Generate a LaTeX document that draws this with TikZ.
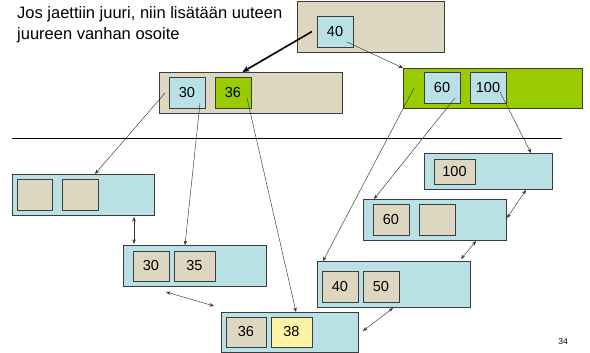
\documentclass[tikz,border=0pt]{standalone}
\usepackage{fontspec}
\setmainfont{Liberation Sans}
\usetikzlibrary{calc,arrows.meta}
\definecolor{tanc}{HTML}{DDD6C1}
\definecolor{bluec}{HTML}{B9E0E4}
\definecolor{greenc}{HTML}{99CC00}
\definecolor{yellowc}{HTML}{FCF4A6}
\definecolor{edgec}{HTML}{3C3C3C}
\begin{document}
\begin{tikzpicture}[x=1pt,y=-1pt,
  box/.style={draw=edgec,line width=0.9pt,inner sep=0pt,outer sep=0pt,font=\fontsize{14.5}{16}\selectfont},
  ptr/.style={draw=black!80,line width=0.45pt,-{Stealth[length=4.5pt,width=3.5pt]}},
  dptr/.style={draw=black!80,line width=0.45pt,{Stealth[length=4.5pt,width=3.5pt]}-{Stealth[length=4.5pt,width=3.5pt]}},
  thick ptr/.style={draw=black,line width=1.6pt,-{Stealth[length=7pt,width=6pt]}}]
\useasboundingbox (0,0) rectangle (590,353);
% title
\node[anchor=north west,align=left,inner sep=0pt,font=\fontsize{16.5}{21}\selectfont] (title) at (17,6.5) {Jos jaettiin juuri, niin lisätään uuteen\\juureen vanhan osoite};
% root
\node[box,fill=tanc,minimum width=147,minimum height=51] (R) at (370.5,26.5) {};
\node[box,fill=bluec,minimum width=36,minimum height=31] (R40) at (335,31.5) {40};
% mid left
\node[box,fill=tanc,minimum width=183,minimum height=41] (L) at (250.5,92.5) {};
\node[box,fill=bluec,minimum width=36,minimum height=31] (L30) at (187,92.5) {30};
\node[box,fill=greenc,minimum width=36,minimum height=31] (L36) at (233,92.5) {36};
% mid right green
\node[box,fill=greenc,minimum width=179,minimum height=40] (G) at (492.5,88) {};
\node[box,fill=bluec,minimum width=36,minimum height=31] (G60) at (442,87.5) {60};
\node[box,fill=bluec,minimum width=36,minimum height=31] (G100) at (488,87.5) {100};
% separator
\coordinate (s1) at (12,138);
\coordinate (s2) at (562,138);
\draw[line width=0.6pt] (s1) -- (s2);
% leaves
\node[box,fill=bluec,minimum width=142,minimum height=41] (A) at (83,194.5) {};
\node[box,fill=tanc,minimum width=35,minimum height=31] (A1) at (34.5,194.5) {};
\node[box,fill=tanc,minimum width=36,minimum height=31] (A2) at (80,194.5) {};
\node[box,fill=bluec,minimum width=143,minimum height=41] (B) at (194.5,265.5) {};
\node[box,fill=tanc,minimum width=36,minimum height=30] (B30) at (151,266) {30};
\node[box,fill=tanc,minimum width=41,minimum height=30] (B35) at (194.5,266) {35};
\node[box,fill=bluec,minimum width=137,minimum height=40] (C) at (289.5,332) {};
\node[box,fill=tanc,minimum width=40,minimum height=30] (C36) at (246,332) {36};
\node[box,fill=yellowc,minimum width=41,minimum height=30] (C38) at (291.5,332) {38};
\node[box,fill=bluec,minimum width=153,minimum height=46] (D) at (393.5,284) {};
\node[box,fill=tanc,minimum width=36,minimum height=31] (D40) at (340,286.5) {40};
\node[box,fill=tanc,minimum width=36,minimum height=31] (D50) at (381,286.5) {50};
\node[box,fill=bluec,minimum width=143,minimum height=41] (E) at (434.5,219.5) {};
\node[box,fill=tanc,minimum width=36,minimum height=31] (E60) at (391,219.5) {60};
\node[box,fill=tanc,minimum width=36,minimum height=31] (E2) at (437,219.5) {};
\node[box,fill=bluec,minimum width=128,minimum height=36] (F) at (488,171) {};
\node[box,fill=tanc,minimum width=41,minimum height=25] (F100) at (454.5,171.5) {100};
% page number
\node[font=\fontsize{8.5}{10}\selectfont,inner sep=0pt] (pg) at (563,342) {34};
% pointers
\draw[thick ptr] ($(R40.west)+(-5,0)$) -- ($(L.north)+(-8,0)$);
\draw[ptr] ($(R40.south east)+(-6,-5)$) -- (G.north west);
\draw[ptr] ($(L30.west)+(-4,0.5)$) -- ($(A.north)+(12,0)$);
\draw[ptr] ($(L30.south east)+(-5,-5)$) -- ($(B.north)+(-9.5,0)$);
\draw[ptr] ($(L36.east)+(-4,5.5)$) -- ($(C.north)+(6.5,0)$);
\draw[ptr] ($(G60.west)+(-10,0.5)$) -- ($(D.north west)+(6,0)$);
\draw[ptr] ($(G60.south east)+(-5,-5)$) -- ($(E.north west)+(11,0)$);
\draw[ptr] ($(G100.east)+(-6,4.5)$) -- ($(F.north east)+(-21,0)$);
% sibling links
\draw[dptr] ($(A.south east)+(-20,2)$) -- ($(B.north west)+(11,-1)$);
\draw[dptr] ($(B.south west)+(43,6)$) -- ($(C.north west)+(-7,-6)$);
\draw[dptr] ($(C.east)+(5,-1)$) -- ($(D.south west)+(76,1)$);
\draw[dptr] ($(D.north east)+(-9,-2)$) -- ($(E.south east)+(-30,1)$);
\draw[dptr] ($(E.east)+(1,-1.5)$) -- ($(F.south east)+(-26,1)$);
\end{tikzpicture}
\end{document}
